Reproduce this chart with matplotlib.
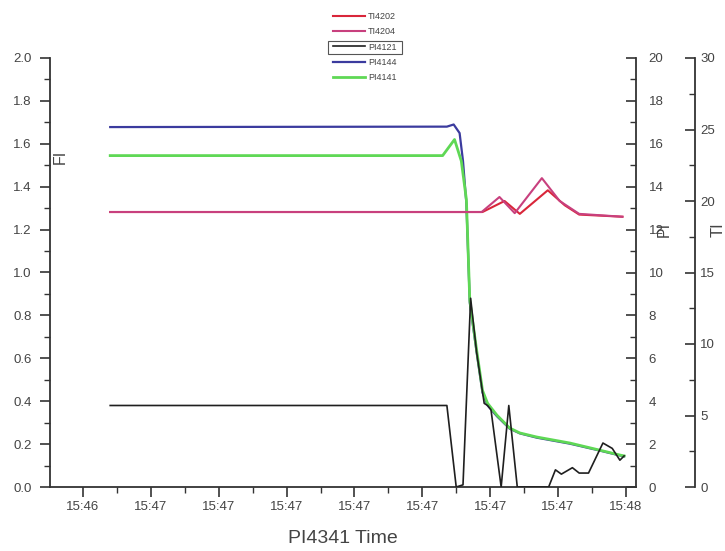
import matplotlib
matplotlib.use("Agg")
import matplotlib.pyplot as plt
from matplotlib.ticker import MultipleLocator, FixedLocator, FixedFormatter
from matplotlib.patches import Rectangle

plt.rcParams['font.family'] = ['Liberation Sans', 'DejaVu Sans']

# time in seconds after 15:46:00
tick_pos = [56, 64, 72, 80, 88, 96, 104, 112, 120]
tick_labels = ["15:46", "15:47", "15:47", "15:47", "15:47", "15:47", "15:47", "15:47", "15:48"]

# PI4121 (black)
t_pi4121 = [59.2, 98.9, 100.0, 100.8, 101.7, 102.4, 103.3, 103.7, 104.1, 105.3, 106.2, 107.2,
            110.9, 111.7, 112.4, 113.7, 114.5, 115.6, 117.3, 118.4, 119.3, 119.8]
v_pi4121 = [3.8, 3.8, 0.0, 0.1, 8.8, 6.3, 3.9, 3.8, 3.6, 0.0, 3.8, 0.0,
            0.0, 0.8, 0.6, 0.9, 0.65, 0.65, 2.05, 1.8, 1.25, 1.45]

# PI4144 (blue)
t_pi4144 = [59.2, 98.9, 99.7, 100.4, 100.8, 101.2, 101.6, 102.4, 103.1, 103.7, 104.8,
            106.3, 107.5, 109.5, 113.4, 116.9, 119.3, 119.8]
v_pi4144 = [16.78, 16.8, 16.9, 16.5, 15.2, 13.2, 8.6, 6.3, 4.4, 3.8, 3.3,
            2.72, 2.5, 2.3, 2.02, 1.7, 1.47, 1.43]

# PI4141 (green)
t_pi4141 = [59.2, 98.4, 99.8, 100.6, 101.2, 101.6, 102.4, 103.1, 103.7, 104.8,
            106.3, 107.5, 109.5, 113.4, 116.9, 119.3, 119.8]
v_pi4141 = [15.45, 15.45, 16.2, 15.2, 13.4, 8.7, 6.4, 4.5, 3.9, 3.35,
            2.75, 2.52, 2.33, 2.05, 1.72, 1.49, 1.45]

# TI4202 (red)
t_ti4202 = [59.2, 103.1, 105.7, 107.5, 110.8, 112.8, 114.5, 119.6]
v_ti4202 = [19.23, 19.23, 20.0, 19.1, 20.75, 19.7, 19.05, 18.9]

# TI4204 (magenta)
t_ti4204 = [59.2, 103.0, 105.1, 106.9, 110.1, 112.2, 114.5, 119.6]
v_ti4204 = [19.23, 19.23, 20.28, 19.15, 21.6, 20.0, 19.1, 18.9]

fig = plt.figure(figsize=(7.25, 5.51), dpi=100)
ax = fig.add_axes([50/725, 1-487/551, 586/725, 429/551])
ax2 = ax.twinx()
ax3 = ax.twinx()

# main (FI) axis
ax.set_xlim(52.1, 121.2)
ax.set_ylim(0, 2.0)
ax.yaxis.set_major_locator(MultipleLocator(0.2))
ax.yaxis.set_minor_locator(MultipleLocator(0.1))
ax.xaxis.set_major_locator(FixedLocator(tick_pos))
ax.xaxis.set_major_formatter(FixedFormatter(tick_labels))
ax.xaxis.set_minor_locator(MultipleLocator(4))
ax.spines['top'].set_visible(False)
ax.spines['right'].set_visible(False)
for s in ['left', 'bottom']:
    ax.spines[s].set_linewidth(1.3)
    ax.spines[s].set_color('#333333')
ax.tick_params(axis='both', which='major', direction='out', length=7, width=1.2,
               labelsize=9.5, colors='#333333', labelcolor='#444444')
ax.tick_params(axis='both', which='minor', direction='out', length=4, width=1.0, colors='#333333')
ax.tick_params(axis='y', pad=6)
ax.tick_params(axis='x', pad=3)
ax.yaxis.set_major_formatter(matplotlib.ticker.FormatStrFormatter('%.1f'))
ax.set_ylabel("FI", fontsize=11.5, color='#444444')
ax.yaxis.set_label_coords(0.031, 0.769)
ax.set_xlabel("PI4341 Time", fontsize=14, color='#444444', labelpad=12)

# PI axis
ax2.set_ylim(0, 20)
ax2.yaxis.set_major_locator(MultipleLocator(2))
ax2.yaxis.set_minor_locator(MultipleLocator(1))
for s in ['top', 'left', 'bottom']:
    ax2.spines[s].set_visible(False)
ax2.spines['right'].set_linewidth(1.3)
ax2.spines['right'].set_color('#333333')
ax2.tick_params(axis='y', which='major', direction='in', length=7, width=1.2,
                labelsize=9.5, colors='#333333', labelcolor='#444444', pad=9)
ax2.tick_params(axis='y', which='minor', direction='in', length=4, width=1.0, colors='#333333')
ax2.set_ylabel("PI", fontsize=11.5, color='#444444', rotation=90)
ax2.yaxis.set_label_coords(1.036, 0.6)

# TI axis
ax3.set_ylim(0, 30)
ax3.spines['right'].set_position(('axes', 1.10))
for s in ['top', 'left', 'bottom']:
    ax3.spines[s].set_visible(False)
ax3.spines['right'].set_linewidth(1.3)
ax3.spines['right'].set_color('#333333')
ax3.yaxis.set_major_locator(MultipleLocator(5))
ax3.yaxis.set_minor_locator(MultipleLocator(2.5))
ax3.tick_params(axis='y', which='major', direction='in', length=7, width=1.2,
                labelsize=9.5, colors='#333333', labelcolor='#444444', pad=4)
ax3.tick_params(axis='y', which='minor', direction='in', length=4, width=1.0, colors='#333333')
ax3.set_ylabel("TI", fontsize=12, color='#444444', rotation=90)
ax3.yaxis.set_label_coords(1.128, 0.6)

# data
l1, = ax3.plot(t_ti4202, v_ti4202, color='#d9263a', lw=1.5, label='TI4202')
l2, = ax3.plot(t_ti4204, v_ti4204, color='#c8407e', lw=1.5, label='TI4204')
l4, = ax2.plot(t_pi4144, v_pi4144, color='#3b3b9e', lw=1.6, label='PI4144')
l5, = ax2.plot(t_pi4141, v_pi4141, color='#5fd855', lw=2.0, label='PI4141')
l3, = ax2.plot(t_pi4121, v_pi4121, color='#1f1f1f', lw=1.2, label='PI4121')

leg = fig.legend([l1, l2, l3, l4, l5], ['TI4202', 'TI4204', 'PI4121', 'PI4144', 'PI4141'],
                 loc='upper center', bbox_to_anchor=(0.503, 0.985), frameon=False,
                 fontsize=6.5, handlelength=3.6, handletextpad=0.3, labelspacing=0.7,
                 borderaxespad=0)
for t in leg.get_texts():
    t.set_color('#444444')

# selection box around the PI4121 legend entry
fig.canvas.draw()
r = fig.canvas.get_renderer()
lines = leg.get_lines()
texts = leg.get_texts()
bl = lines[2].get_window_extent(r)
bt = texts[2].get_window_extent(r)
x0 = bl.x0 - 5
x1 = bt.x1 + 5
y0 = min(bl.y0, bt.y0) - 2
y1 = max(bl.y1, bt.y1) + 2
inv = fig.transFigure.inverted()
(fx0, fy0) = inv.transform((x0, y0))
(fx1, fy1) = inv.transform((x1, y1))
fig.patches.append(Rectangle((fx0, fy0), fx1-fx0, fy1-fy0, transform=fig.transFigure,
                             fill=False, edgecolor='#555555', lw=0.8))

fig.savefig("out.png", dpi=100)
